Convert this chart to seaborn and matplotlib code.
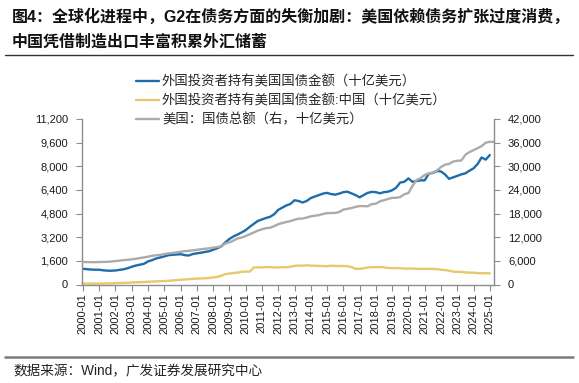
import numpy as np
import pandas as pd
import matplotlib
matplotlib.use("Agg")
import matplotlib.pyplot as plt
import matplotlib.dates as mdates
import matplotlib.ticker as mticker
from matplotlib.lines import Line2D
import seaborn as sns

# ---------------- data (quarterly readings, billions USD) ----------------
start_date = "2000-01-01"
end_foreign = "2025-01-01"
end_debt = "2025-04-01"

foreign_total = [
    1060, 1040, 1010, 1000,   # 2000
    1000, 960, 940, 930,      # 2001
    950, 990, 1030, 1100,     # 2002
    1200, 1280, 1340, 1400,   # 2003
    1560, 1650, 1760, 1830,   # 2004
    1900, 1980, 2010, 2030,   # 2005
    2050, 1990, 1960, 2060,   # 2006
    2110, 2150, 2200, 2250,   # 2007
    2350, 2450, 2580, 2850,   # 2008
    3080, 3250, 3380, 3520,   # 2009
    3680, 3900, 4100, 4300,   # 2010
    4400, 4500, 4580, 4750,   # 2011
    5050, 5200, 5350, 5450,   # 2012
    5700, 5650, 5550, 5650,   # 2013
    5850, 5950, 6050, 6150,   # 2014
    6200, 6120, 6080, 6150,   # 2015
    6250, 6280, 6170, 6050,   # 2016
    5900, 6050, 6200, 6270,   # 2017
    6250, 6170, 6250, 6280,   # 2018
    6380, 6550, 6900, 6950,   # 2019
    7180, 6950, 7000, 7050,   # 2020
    7050, 7500, 7550, 7680,   # 2021
    7650, 7450, 7150, 7250,   # 2022
    7350, 7450, 7520, 7700,   # 2023
    7860, 8150, 8600, 8450,   # 2024
    8760,                     # 2025
]

foreign_china = [
    70, 65, 60, 60,
    60, 70, 75, 80,
    90, 100, 110, 120,
    130, 150, 160, 170,
    190, 200, 210, 220,
    230, 250, 270, 300,
    320, 340, 360, 380,
    400, 410, 420, 440,
    480, 510, 590, 700,
    740, 780, 800, 860,
    880, 870, 1150, 1160,
    1160, 1170, 1180, 1150,
    1160, 1170, 1160, 1200,
    1260, 1280, 1270, 1300,
    1280, 1270, 1260, 1250,
    1240, 1270, 1260, 1250,
    1250, 1240, 1180, 1060,
    1060, 1100, 1150, 1180,
    1170, 1180, 1160, 1120,
    1110, 1110, 1100, 1080,
    1080, 1080, 1060, 1060,
    1060, 1060, 1050, 1040,
    1000, 980, 930, 870,
    860, 850, 820, 800,
    800, 770, 770, 760,
    760,
]

us_debt_total = [
    5720, 5690, 5680, 5660,
    5720, 5730, 5750, 5830,
    5940, 6050, 6200, 6260,
    6400, 6520, 6700, 6880,
    7050, 7280, 7420, 7520,
    7700, 7900, 8000, 8150,
    8300, 8450, 8550, 8650,
    8800, 8950, 9050, 9200,
    9350, 9500, 9700, 10400,
    10700, 11150, 11700, 11900,
    12300, 12750, 13200, 13670,
    14000, 14300, 14400, 14800,
    15300, 15600, 15850, 16100,
    16430, 16700, 16730, 17000,
    17300, 17450, 17600, 17900,
    18100, 18150, 18150, 18400,
    19000, 19200, 19400, 19700,
    19900, 19900, 19850, 20400,
    20500, 21100, 21400, 21700,
    22000, 22000, 22200, 22900,
    23200, 25000, 26500, 27000,
    27800, 28200, 28400, 28900,
    29800, 30400, 30600, 31200,
    31400, 31450, 32900, 33600,
    34100, 34600, 35100, 36000,
    36200, 36200,
]

label_total = "外国投资者持有美国国债金额（十亿美元）"
label_china = "外国投资者持有美国国债金额:中国（十亿美元）"
label_debt = "美国：国债总额（右，十亿美元）"

left_ticks = [0, 1600, 3200, 4800, 6400, 8000, 9600, 11200]
right_ticks = [0, 6000, 12000, 18000, 24000, 30000, 36000, 42000]

title_l1 = "图4：全球化进程中，G2在债务方面的失衡加剧：美国依赖债务扩张过度消费，"
title_l2 = "中国凭借制造出口丰富积累外汇储蓄"
source = "数据来源：Wind，广发证券发展研究中心"

# ---------------- frames ----------------
d_f = pd.date_range(start_date, end_foreign, freq="QS")
d_d = pd.date_range(start_date, end_debt, freq="QS")
df_f = pd.DataFrame({"date": d_f, "total": foreign_total, "china": foreign_china})
df_d = pd.DataFrame({"date": d_d, "debt": us_debt_total})

# ---------------- style ----------------
sns.set_theme(style="white")
plt.rcParams["font.family"] = ["Liberation Sans", "Noto Sans CJK SC"]
plt.rcParams["axes.unicode_minus"] = False

C_BLUE = "#1f6cab"
C_YEL = "#e6c96a"
C_GRAY = "#ababab"
C_AX = "#8c8c8c"

fig = plt.figure(figsize=(5.79, 3.83), dpi=100)
ax = fig.add_axes([82 / 579, 1 - 284.5 / 383, (494 - 82) / 579, (284.5 - 119) / 383])
ax2 = ax.twinx()

sns.lineplot(data=df_f, x="date", y="total", ax=ax, color=C_BLUE, lw=1.7, label=label_total, legend=False)
sns.lineplot(data=df_f, x="date", y="china", ax=ax, color=C_YEL, lw=1.7, label=label_china, legend=False)
sns.lineplot(data=df_d, x="date", y="debt", ax=ax2, color=C_GRAY, lw=1.7, label=label_debt, legend=False)

ax.set_ylim(0, 11200)
ax.set_yticks(left_ticks)
ax2.set_ylim(0, 42000)
ax2.set_yticks(right_ticks)
fmt = mticker.StrMethodFormatter("{x:,.0f}")
ax.yaxis.set_major_formatter(fmt)
ax2.yaxis.set_major_formatter(fmt)

ax.set_xlim(pd.Timestamp("1999-12-12"), pd.Timestamp("2025-04-05"))
ax.set_xticks(pd.date_range("2000-01-01", "2025-01-01", freq="YS"))
ax.xaxis.set_major_formatter(mdates.DateFormatter("%Y-%m"))
for lab in ax.get_xticklabels():
    lab.set_rotation(90)

for a in (ax, ax2):
    a.set_xlabel("")
    a.set_ylabel("")
    a.grid(False)
    for s in a.spines.values():
        s.set_visible(False)
ax.spines["left"].set_visible(True)
ax.spines["bottom"].set_visible(True)
ax2.spines["right"].set_visible(True)
for s in (ax.spines["left"], ax.spines["bottom"], ax2.spines["right"]):
    s.set_color(C_AX)
    s.set_linewidth(1.0)

ax.tick_params(axis="y", which="both", left=True, direction="out", length=4, width=0.8,
               color=C_AX, labelsize=8, labelcolor="#1a1a1a", pad=6)
ax.tick_params(axis="x", which="both", bottom=True, direction="out", length=4, width=0.8,
               color=C_AX, labelsize=8, labelcolor="#1a1a1a", pad=2)
ax2.tick_params(axis="y", which="both", right=True, direction="out", length=4, width=0.8,
                color=C_AX, labelsize=8, labelcolor="#1a1a1a", pad=6)

# legend
h1, l1 = ax.get_legend_handles_labels()
h2, l2 = ax2.get_legend_handles_labels()
leg = fig.legend(h1 + h2, l1 + l2, loc="upper left", bbox_to_anchor=(136 / 579, 1 - 75 / 383),
                 frameon=False, handlelength=1.75, handletextpad=0.2,
                 labelspacing=0.45, borderpad=0, borderaxespad=0,
                 prop={"family": ["Liberation Sans", "Noto Sans CJK SC"], "size": 9.6})

# title, rules, source
fig.text(12 / 579, 1 - 17 / 383, title_l1, fontsize=11.5, fontweight="bold", va="center", ha="left",
         color="#111111")
fig.text(12 / 579, 1 - 42 / 383, title_l2, fontsize=11.5, fontweight="bold", va="center", ha="left",
         color="#111111")
fig.add_artist(Line2D([5 / 579, 573 / 579], [1 - 55 / 383, 1 - 55 / 383], transform=fig.transFigure,
                      color="#333333", lw=1.0))
fig.add_artist(Line2D([5 / 579, 573 / 579], [1 - 356.5 / 383, 1 - 356.5 / 383], transform=fig.transFigure,
                      color="#7a7a7a", lw=1.8))
fig.text(13 / 579, 1 - 371 / 383, source, fontsize=9.8, va="center", ha="left", color="#222222")

fig.savefig("out.png", dpi=100)
